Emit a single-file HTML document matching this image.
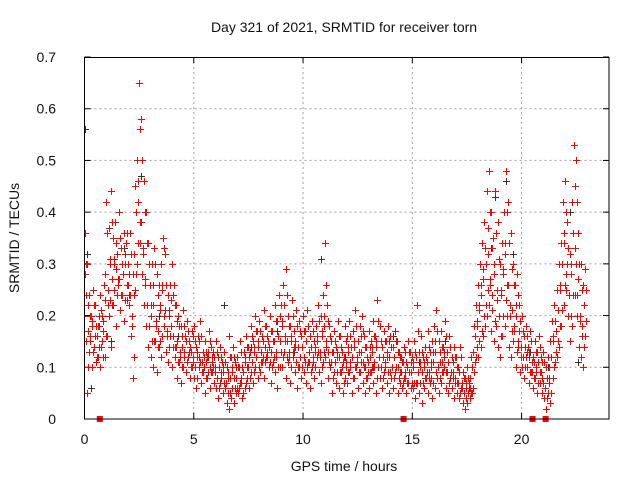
<!DOCTYPE html>
<html><head><meta charset="utf-8"><style>
html,body{margin:0;padding:0;background:#fff}
svg{display:block;font-family:"Liberation Sans",sans-serif}
</style></head><body>
<svg id="chart" width="640" height="480" viewBox="0 0 640 480" xmlns="http://www.w3.org/2000/svg">
<rect width="640" height="480" fill="#fff"/>
<text x="344" y="32" font-size="14" text-anchor="middle" fill="#111">Day 321 of 2021, SRMTID for receiver torn</text>
<text transform="translate(19,238) rotate(-90)" font-size="14" text-anchor="middle" fill="#111">SRMTID / TECUs</text>
<text x="344" y="471" font-size="14" text-anchor="middle" fill="#111">GPS time / hours</text>
<g id="grid"></g>
<g id="ticks"></g>
<svg x="84.5" y="57" width="525" height="362" overflow="hidden"><g id="marks" transform="translate(-84.5,-57)"></g></svg>
<g id="flags"></g>
<rect x="84.5" y="57.5" width="524.5" height="361.5" fill="none" stroke="#000" stroke-width="1"/>
</svg>
<script>
const hours=[0.0,0.1,0.2,0.3,0.4,0.5,0.6,0.7,0.8,0.9,1.0,1.1,1.2,1.3,1.4,1.5,1.6,1.7,1.8,1.9,2.0,2.1,2.2,2.3,2.4,2.5,2.6,2.7,2.8,2.9,3.0,3.1,3.2,3.3,3.4,3.5,3.6,3.7,3.8,3.9,4.0,4.1,4.2,4.3,4.4,4.5,4.6,4.7,4.8,4.9,5.0,5.1,5.2,5.3,5.4,5.5,5.6,5.7,5.8,5.9,6.0,6.1,6.2,6.3,6.4,6.5,6.6,6.7,6.8,6.9,7.0,7.1,7.2,7.3,7.4,7.5,7.6,7.7,7.8,7.9,8.0,8.1,8.2,8.3,8.4,8.5,8.6,8.7,8.8,8.9,9.0,9.1,9.2,9.3,9.4,9.5,9.6,9.7,9.8,9.9,10.0,10.1,10.2,10.3,10.4,10.5,10.6,10.7,10.8,10.9,11.0,11.1,11.2,11.3,11.4,11.5,11.6,11.7,11.8,11.9,12.0,12.1,12.2,12.3,12.4,12.5,12.6,12.7,12.8,12.9,13.0,13.1,13.2,13.3,13.4,13.5,13.6,13.7,13.8,13.9,14.0,14.1,14.2,14.3,14.4,14.5,14.6,14.7,14.8,14.9,15.0,15.1,15.2,15.3,15.4,15.5,15.6,15.7,15.8,15.9,16.0,16.1,16.2,16.3,16.4,16.5,16.6,16.7,16.8,16.9,17.0,17.1,17.2,17.3,17.4,17.5,17.6,17.7,17.8,17.9,18.0,18.1,18.2,18.3,18.4,18.5,18.6,18.7,18.8,18.9,19.0,19.1,19.2,19.3,19.4,19.5,19.6,19.7,19.8,19.9,20.0,20.1,20.2,20.3,20.4,20.5,20.6,20.7,20.8,20.9,21.0,21.1,21.2,21.3,21.4,21.5,21.6,21.7,21.8,21.9,22.0,22.1,22.2,22.3,22.4,22.5,22.6,22.7,22.8,22.9];
const tecuHigh=[0.36,0.30,0.24,0.20,0.25,0.22,0.18,0.24,0.20,0.26,
0.42,0.37,0.44,0.35,0.38,0.32,0.40,0.30,0.36,0.34,
0.30,0.36,0.28,0.45,0.50,0.65,0.58,0.46,0.40,0.34,
0.26,0.30,0.33,0.28,0.26,0.30,0.35,0.32,0.24,0.26,
0.30,0.26,0.22,0.20,0.18,0.21,0.16,0.19,0.15,0.17,
0.18,0.14,0.16,0.19,0.13,0.15,0.12,0.17,0.14,0.13,
0.15,0.12,0.14,0.11,0.13,0.10,0.16,0.12,0.14,0.11,
0.12,0.15,0.10,0.13,0.16,0.14,0.18,0.15,0.20,0.17,
0.19,0.16,0.21,0.18,0.15,0.20,0.17,0.22,0.19,0.24,
0.22,0.26,0.29,0.20,0.18,0.23,0.17,0.21,0.19,0.16,
0.20,0.17,0.21,0.16,0.19,0.15,0.18,0.22,0.20,0.24,
0.34,0.22,0.18,0.15,0.17,0.14,0.19,0.16,0.13,0.18,
0.16,0.19,0.14,0.17,0.21,0.15,0.18,0.20,0.16,0.14,
0.17,0.15,0.19,0.16,0.23,0.18,0.14,0.17,0.15,0.18,
0.16,0.14,0.17,0.15,0.13,0.12,0.14,0.11,0.15,0.13,
0.12,0.15,0.22,0.13,0.16,0.12,0.14,0.17,0.13,0.15,
0.18,0.21,0.15,0.17,0.14,0.19,0.13,0.16,0.12,0.14,
0.12,0.10,0.14,0.09,0.08,0.10,0.07,0.12,0.18,0.22,
0.26,0.30,0.34,0.38,0.44,0.48,0.40,0.35,0.44,0.38,
0.30,0.34,0.40,0.48,0.42,0.36,0.30,0.26,0.28,0.22,
0.20,0.16,0.18,0.14,0.17,0.12,0.15,0.13,0.16,0.12,
0.13,0.10,0.12,0.15,0.19,0.22,0.25,0.30,0.34,0.42,
0.46,0.38,0.32,0.42,0.53,0.50,0.36,0.30,0.26,0.29];
const tecuUpperMid=[0.30,0.22,0.20,0.18,0.22,0.18,0.20,0.21,0.17,0.23,
0.36,0.31,0.38,0.30,0.34,0.27,0.35,0.28,0.32,0.36,
0.28,0.32,0.24,0.40,0.46,0.56,0.50,0.40,0.34,0.30,
0.22,0.26,0.30,0.24,0.22,0.26,0.33,0.26,0.21,0.23,
0.24,0.22,0.19,0.18,0.16,0.18,0.15,0.17,0.14,0.16,
0.15,0.12,0.15,0.16,0.12,0.13,0.13,0.15,0.12,0.12,
0.13,0.10,0.12,0.10,0.11,0.09,0.12,0.10,0.12,0.10,
0.10,0.13,0.09,0.11,0.14,0.12,0.16,0.13,0.17,0.15,
0.17,0.15,0.18,0.16,0.14,0.17,0.15,0.19,0.16,0.20,
0.19,0.22,0.24,0.18,0.15,0.20,0.15,0.18,0.17,0.14,
0.17,0.15,0.18,0.14,0.17,0.13,0.16,0.19,0.17,0.20,
0.26,0.19,0.16,0.13,0.15,0.13,0.16,0.14,0.11,0.15,
0.14,0.16,0.12,0.15,0.18,0.13,0.16,0.17,0.14,0.12,
0.14,0.14,0.16,0.14,0.19,0.15,0.12,0.15,0.13,0.15,
0.14,0.12,0.15,0.13,0.12,0.11,0.13,0.10,0.13,0.11,
0.11,0.13,0.17,0.11,0.13,0.11,0.12,0.14,0.11,0.13,
0.15,0.17,0.13,0.14,0.13,0.16,0.11,0.14,0.11,0.12,
0.10,0.09,0.12,0.08,0.07,0.08,0.06,0.10,0.16,0.19,
0.22,0.26,0.29,0.33,0.37,0.40,0.33,0.30,0.36,0.31,
0.25,0.29,0.34,0.40,0.34,0.29,0.26,0.22,0.24,0.19,
0.17,0.14,0.16,0.12,0.15,0.11,0.13,0.11,0.14,0.11,
0.11,0.08,0.10,0.12,0.16,0.19,0.21,0.26,0.30,0.36,
0.40,0.33,0.28,0.36,0.45,0.42,0.30,0.25,0.22,0.25];
const tecuMid=[0.20,0.15,0.17,0.16,0.19,0.14,0.16,0.18,0.14,0.19,
0.28,0.25,0.30,0.27,0.31,0.29,0.26,0.33,0.28,0.30,
0.26,0.24,0.18,0.32,0.40,0.42,0.38,0.32,0.26,0.22,
0.18,0.20,0.22,0.19,0.17,0.21,0.25,0.20,0.17,0.20,
0.18,0.16,0.14,0.15,0.12,0.14,0.13,0.15,0.12,0.13,
0.12,0.10,0.13,0.12,0.11,0.10,0.11,0.12,0.10,0.11,
0.10,0.08,0.10,0.09,0.09,0.07,0.08,0.08,0.09,0.08,
0.08,0.10,0.07,0.09,0.12,0.10,0.13,0.11,0.14,0.12,
0.14,0.13,0.15,0.14,0.12,0.14,0.13,0.15,0.13,0.16,
0.15,0.18,0.16,0.15,0.12,0.16,0.13,0.14,0.14,0.12,
0.14,0.12,0.15,0.11,0.14,0.11,0.14,0.15,0.13,0.16,
0.18,0.14,0.13,0.10,0.13,0.11,0.12,0.12,0.09,0.12,
0.11,0.13,0.10,0.12,0.14,0.11,0.13,0.13,0.11,0.10,
0.11,0.12,0.13,0.11,0.15,0.12,0.10,0.12,0.11,0.12,
0.12,0.10,0.12,0.10,0.10,0.09,0.11,0.08,0.10,0.09,
0.09,0.10,0.12,0.09,0.10,0.09,0.10,0.11,0.09,0.10,
0.11,0.13,0.10,0.11,0.11,0.12,0.09,0.11,0.09,0.09,
0.08,0.07,0.09,0.06,0.05,0.06,0.05,0.08,0.13,0.16,
0.18,0.21,0.24,0.27,0.30,0.32,0.26,0.24,0.28,0.25,
0.20,0.24,0.28,0.32,0.26,0.22,0.21,0.17,0.20,0.15,
0.14,0.12,0.14,0.10,0.13,0.09,0.11,0.09,0.11,0.09,
0.08,0.06,0.08,0.08,0.12,0.15,0.17,0.21,0.25,0.30,
0.34,0.28,0.24,0.30,0.36,0.33,0.24,0.20,0.18,0.22];
const tecuLowerMid=[0.24,0.10,0.15,0.13,0.16,0.12,0.14,0.14,0.12,0.16,
0.22,0.23,0.22,0.25,0.24,0.27,0.24,0.28,0.23,0.26,
0.24,0.20,0.12,0.28,0.34,0.38,0.33,0.27,0.22,0.18,
0.15,0.15,0.18,0.14,0.15,0.16,0.21,0.16,0.14,0.18,
0.14,0.14,0.11,0.13,0.10,0.12,0.11,0.13,0.10,0.11,
0.10,0.08,0.11,0.09,0.10,0.08,0.09,0.09,0.10,0.09,
0.08,0.06,0.08,0.07,0.07,0.05,0.05,0.06,0.06,0.06,
0.06,0.08,0.05,0.07,0.10,0.08,0.11,0.09,0.12,0.10,
0.11,0.12,0.11,0.13,0.11,0.10,0.12,0.12,0.10,0.13,
0.12,0.15,0.12,0.13,0.10,0.14,0.11,0.10,0.12,0.10,
0.11,0.10,0.13,0.09,0.12,0.10,0.13,0.12,0.10,0.13,
0.15,0.11,0.11,0.08,0.11,0.09,0.09,0.10,0.07,0.10,
0.09,0.11,0.08,0.10,0.12,0.09,0.11,0.10,0.08,0.09,
0.09,0.10,0.10,0.08,0.12,0.10,0.08,0.10,0.09,0.09,
0.10,0.08,0.10,0.08,0.09,0.07,0.09,0.07,0.09,0.07,
0.07,0.07,0.09,0.07,0.07,0.08,0.09,0.08,0.08,0.07,
0.09,0.10,0.08,0.09,0.10,0.09,0.07,0.09,0.08,0.07,
0.07,0.05,0.07,0.05,0.04,0.05,0.05,0.06,0.11,0.14,
0.15,0.17,0.20,0.22,0.25,0.27,0.21,0.19,0.23,0.20,
0.16,0.20,0.23,0.26,0.20,0.17,0.18,0.13,0.17,0.12,
0.12,0.10,0.13,0.09,0.11,0.08,0.10,0.07,0.09,0.07,
0.06,0.04,0.07,0.05,0.10,0.13,0.15,0.18,0.21,0.26,
0.30,0.24,0.20,0.24,0.30,0.27,0.19,0.16,0.14,0.19];
const tecuLow=[0.28,0.05,0.13,0.10,0.14,0.11,0.12,0.10,0.15,0.12,
0.16,0.20,0.14,0.22,0.18,0.26,0.21,0.24,0.19,0.23,
0.22,0.16,0.08,0.25,0.30,0.34,0.28,0.22,0.18,0.14,
0.12,0.10,0.15,0.09,0.14,0.12,0.18,0.13,0.11,0.16,
0.10,0.12,0.08,0.11,0.07,0.10,0.09,0.12,0.08,0.10,
0.08,0.06,0.10,0.07,0.09,0.05,0.08,0.06,0.09,0.07,
0.06,0.04,0.07,0.05,0.06,0.03,0.02,0.04,0.03,0.05,
0.05,0.07,0.04,0.06,0.08,0.06,0.09,0.07,0.10,0.08,
0.09,0.11,0.08,0.12,0.10,0.07,0.11,0.09,0.06,0.10,
0.10,0.13,0.08,0.11,0.07,0.12,0.09,0.06,0.10,0.08,
0.09,0.07,0.11,0.06,0.10,0.08,0.12,0.09,0.07,0.11,
0.12,0.08,0.10,0.05,0.09,0.07,0.06,0.09,0.05,0.08,
0.07,0.09,0.05,0.08,0.10,0.06,0.09,0.07,0.05,0.08,
0.06,0.09,0.07,0.05,0.10,0.08,0.06,0.09,0.07,0.05,
0.08,0.06,0.09,0.05,0.07,0.06,0.08,0.05,0.07,0.06,
0.06,0.04,0.07,0.05,0.03,0.06,0.08,0.05,0.07,0.04,
0.06,0.08,0.05,0.07,0.09,0.06,0.05,0.08,0.06,0.04,
0.05,0.04,0.06,0.03,0.02,0.03,0.04,0.05,0.09,0.12,
0.12,0.14,0.16,0.18,0.20,0.22,0.17,0.15,0.18,0.14,
0.12,0.16,0.18,0.20,0.14,0.12,0.15,0.10,0.14,0.09,
0.10,0.08,0.12,0.07,0.09,0.06,0.08,0.05,0.07,0.05,
0.04,0.02,0.05,0.03,0.08,0.11,0.12,0.14,0.18,0.22,
0.25,0.20,0.15,0.18,0.24,0.20,0.14,0.12,0.10,0.16];
const grayHours=[0.0,0.1,0.3,1.2,1.8,2.6,3.4,4.3,5.6,6.4,7.6,8.8,9.6,10.8,11.9,13.2,14.1,15.3,16.5,17.6,18.6,18.8,19.3,19.6,20.4,21.2,22.2,22.6];
const grayTecu=[0.56,0.32,0.06,0.15,0.33,0.47,0.20,0.16,0.12,0.22,0.14,0.17,0.13,0.31,0.12,0.10,0.16,0.11,0.15,0.06,0.33,0.43,0.46,0.32,0.13,0.10,0.40,0.11];
const badHours=[0.7,14.6,20.5,21.1];
const xTicks=[0,5,10,15,20];
const yTicks=[0,0.1,0.2,0.3,0.4,0.5,0.6,0.7];
const yTickLabels=["0","0.1","0.2","0.3","0.4","0.5","0.6","0.7"];

const X0=84.5,X1=609,Y0=419,Y1=57;
const xs=h=>X0+h*(X1-X0)/24;
const ys=v=>Y0-v*(Y0-Y1)/0.7;
const NS="http://www.w3.org/2000/svg";
function mk(tag,attrs,parent){const e=document.createElementNS(NS,tag);for(const k in attrs)e.setAttribute(k,attrs[k]);parent.appendChild(e);return e;}
const grid=document.getElementById('grid'),ticks=document.getElementById('ticks');
xTicks.forEach(t=>{const x=xs(t);
 if(t>0){const g=mk('line',{x1:x,x2:x,y1:Y1,y2:Y0,stroke:'#a0a0a0','stroke-dasharray':'2,3'},grid);
 
 }
 const a=mk('line',{x1:x,x2:x,y1:Y0,y2:Y0-6,stroke:'#000'},ticks);
 
 
 const b=mk('line',{x1:x,x2:x,y1:Y1,y2:Y1+6,stroke:'#000'},ticks);
 
 
 const l=mk('text',{x:x,y:444,'font-size':14,'text-anchor':'middle',fill:'#111'},ticks);l.textContent=String(t);
 
 
});
yTicks.forEach((t,i)=>{const y=ys(t);
 if(i>0&&i<yTicks.length-1){const g=mk('line',{x1:X0,x2:X1,y1:y,y2:y,stroke:'#a0a0a0','stroke-dasharray':'2,3'},grid);
 
 }
 const a=mk('line',{x1:X0,x2:X0+6,y1:y,y2:y,stroke:'#000'},ticks);
 
 
 const b=mk('line',{x1:X1,x2:X1-6,y1:y,y2:y,stroke:'#000'},ticks);
 
 
 const l=mk('text',{x:56,y:y+5,'font-size':14,'text-anchor':'end',fill:'#111'},ticks);l.textContent=yTickLabels[i];
 
 
});
const marks=document.getElementById('marks');
function plus(h,v,color,dx){const x=Math.round(xs(h)+dx)+0.5,y=Math.round(ys(v))+0.5;
 const p=mk('path',{d:`M${x-3.5} ${y}H${x+3.5}M${x} ${y-3.5}V${y+3.5}`,stroke:color,'stroke-width':1,fill:'none'},marks);
 return p;}
grayHours.forEach((h,i)=>{const p=plus(h,grayTecu[i],'#333',0);
 
 });
[[tecuHigh,0],[tecuUpperMid,1],[tecuMid,-1],[tecuLowerMid,1.5],[tecuLow,0.5]].forEach(([arr,dx])=>{
 hours.forEach((h,i)=>{const p=plus(h,arr[i],'#f00',dx);
 
 });
});
const flags=document.getElementById('flags');
badHours.forEach(h=>{const r=mk('rect',{x:xs(h)-3,y:Y0-3,width:6,height:6,fill:'#f00'},flags);
 
 });
</script>
</body></html>
